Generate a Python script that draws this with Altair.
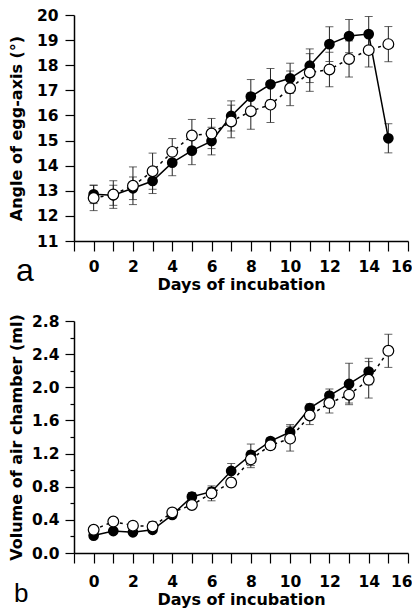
import altair as alt
import pandas as pd

# ---------------- data ----------------
days = list(range(16))

# panel a: angle of egg-axis (deg)
angle_filled = [12.86, 12.82, 13.10, 13.39, 14.12, 14.60, 14.98, 15.98,
                16.75, 17.24, 17.48, 17.98, 18.84, 19.16, 19.24, 15.09]
angle_filled_sd = [0.37, 0.40, 0.45, 0.50, 0.52, 0.56, 0.55, 0.60,
                   0.68, 0.63, 0.60, 0.67, 0.69, 0.66, 0.70, 0.58]
angle_open = [12.71, 12.85, 13.20, 13.78, 14.55, 15.20, 15.28, 15.76,
              16.17, 16.43, 17.08, 17.71, 17.83, 18.25, 18.60, 18.84]
angle_open_sd = [0.50, 0.55, 0.75, 0.72, 0.53, 0.64, 0.60, 0.65,
                 0.72, 0.71, 0.69, 0.75, 0.69, 0.72, 0.67, 0.70]

# panel b: volume of air chamber (ml)
vol_days_filled = list(range(15))
vol_filled = [0.21, 0.265, 0.25, 0.28, 0.46, 0.68, 0.74, 0.99,
              1.185, 1.35, 1.46, 1.75, 1.90, 2.04, 2.19]
vol_filled_sd = [0.03, 0.03, 0.03, 0.03, 0.04, 0.05, 0.05, 0.09,
                 0.13, 0.04, 0.09, 0.05, 0.08, 0.25, 0.16]
vol_open = [0.28, 0.38, 0.33, 0.32, 0.49, 0.58, 0.72, 0.85,
            1.13, 1.30, 1.38, 1.66, 1.81, 1.91, 2.09, 2.44]
vol_open_sd = [0.03, 0.04, 0.05, 0.06, 0.05, 0.04, 0.09, 0.05,
               0.10, 0.05, 0.15, 0.11, 0.12, 0.10, 0.22, 0.20]

x_ticks = list(range(-1, 17))
angle_ticks = list(range(11, 21))
vol_major = [0.0, 0.4, 0.8, 1.2, 1.6, 2.0, 2.4, 2.8]
vol_minor = [0.2, 0.6, 1.0, 1.4, 1.8, 2.2, 2.6]


def frame(d_f, v_f, s_f, d_o, v_o, s_o):
    rows = []
    for d, v, s in zip(d_f, v_f, s_f):
        rows.append({"day": d, "value": v, "lo": v - s, "hi": v + s, "series": "filled"})
    for d, v, s in zip(d_o, v_o, s_o):
        rows.append({"day": d, "value": v, "lo": v - s, "hi": v + s, "series": "open"})
    return pd.DataFrame(rows)


df_a = frame(days, angle_filled, angle_filled_sd, days, angle_open, angle_open_sd)
df_b = frame(vol_days_filled, vol_filled, vol_filled_sd, days, vol_open, vol_open_sd)

W = 334
FONT = "DejaVu Sans"


def panel(df, height, ydomain, major_axis, minor_axis, letter, letter_x, letter_dy,
          letter_size, x_label_pad, x_title_pad):
    xenc = alt.X(
        "day:Q",
        scale=alt.Scale(domain=[-1, 16], nice=False, zero=False),
        axis=alt.Axis(values=x_ticks,
                      labelExpr="datum.value >= 0 && datum.value % 2 == 0 ? datum.label : ''",
                      labelFlush=True, labelFlushOffset=4, labelOverlap=False,
                      tickSize=10, labelPadding=x_label_pad, titlePadding=x_title_pad,
                      title="Days of incubation", orient="bottom"),
    )
    yscale = alt.Scale(domain=ydomain, nice=False, zero=False)
    base = alt.Chart(df)

    rules = base.mark_rule(color="#222222", strokeWidth=1).encode(
        x=xenc,
        y=alt.Y("lo:Q", scale=yscale, axis=minor_axis),
        y2="hi:Q",
    )
    caps = base.transform_fold(["lo", "hi"], as_=["k", "v"]).mark_tick(
        orient="horizontal", size=8, thickness=1, color="#222222"
    ).encode(x=xenc, y=alt.Y("v:Q", scale=yscale, axis=None))

    line_f = base.transform_filter("datum.series == 'filled'").mark_line(
        color="black", strokeWidth=1.5
    ).encode(x=xenc, y=alt.Y("value:Q", scale=yscale, axis=None))
    line_o = base.transform_filter("datum.series == 'open'").mark_line(
        color="black", strokeWidth=1.5, strokeDash=[3, 4]
    ).encode(x=xenc, y=alt.Y("value:Q", scale=yscale, axis=None))

    pts_f = base.transform_filter("datum.series == 'filled'").mark_point(
        shape="circle", filled=True, size=115, color="black", opacity=1
    ).encode(x=xenc, y=alt.Y("value:Q", scale=yscale, axis=None))
    pts_o = base.transform_filter("datum.series == 'open'").mark_point(
        shape="circle", filled=False, fill="white", fillOpacity=1, stroke="black",
        strokeWidth=1.2, size=115, opacity=1
    ).encode(x=xenc, y=alt.Y("value:Q", scale=yscale, axis=major_axis))

    lab = alt.Chart(pd.DataFrame({"t": [letter]})).mark_text(
        font="Liberation Sans", fontSize=letter_size, fontWeight="normal",
        align="left", baseline="alphabetic", color="black"
    ).encode(text="t:N", x=alt.value(letter_x), y=alt.value(height + letter_dy))

    return alt.layer(rules, caps, line_f, line_o, pts_f, pts_o, lab).resolve_axis(
        y="independent"
    ).properties(width=W, height=height)


axis_a = alt.Axis(values=angle_ticks, tickSize=9, labelPadding=7, titlePadding=11.5,
                  title="Angle of egg-axis (°)", orient="left")
axis_b = alt.Axis(values=vol_major, format=".1f", tickSize=9, labelPadding=6,
                  titlePadding=7, title="Volume of air chamber (ml)", orient="left")
axis_b_minor = alt.Axis(values=vol_minor, tickSize=4, labels=False, domain=False,
                        title=None, orient="left")

top = panel(df_a, 226, [11, 20], axis_a, None, "a", -58, 40, 32, 8, 2)
bottom = panel(df_b, 232, [0, 2.8], axis_b, axis_b_minor, "b", -60, 49, 26, 11, 2)

chart = alt.vconcat(top, bottom, spacing=20).properties(
    padding={"left": 0, "top": 0, "right": 0, "bottom": 0}
).configure_view(stroke=None).configure_axis(
    grid=False,
    domainColor="black",
    domainWidth=1.5,
    tickColor="black",
    tickWidth=1.2,
    labelFont=FONT,
    labelFontWeight="bold",
    labelFontSize=15.5,
    labelColor="black",
    titleFont=FONT,
    titleFontWeight="bold",
    titleFontSize=16,
    titleColor="black",
)

chart.save("out.html", embed_options={"renderer": "svg", "actions": False})
